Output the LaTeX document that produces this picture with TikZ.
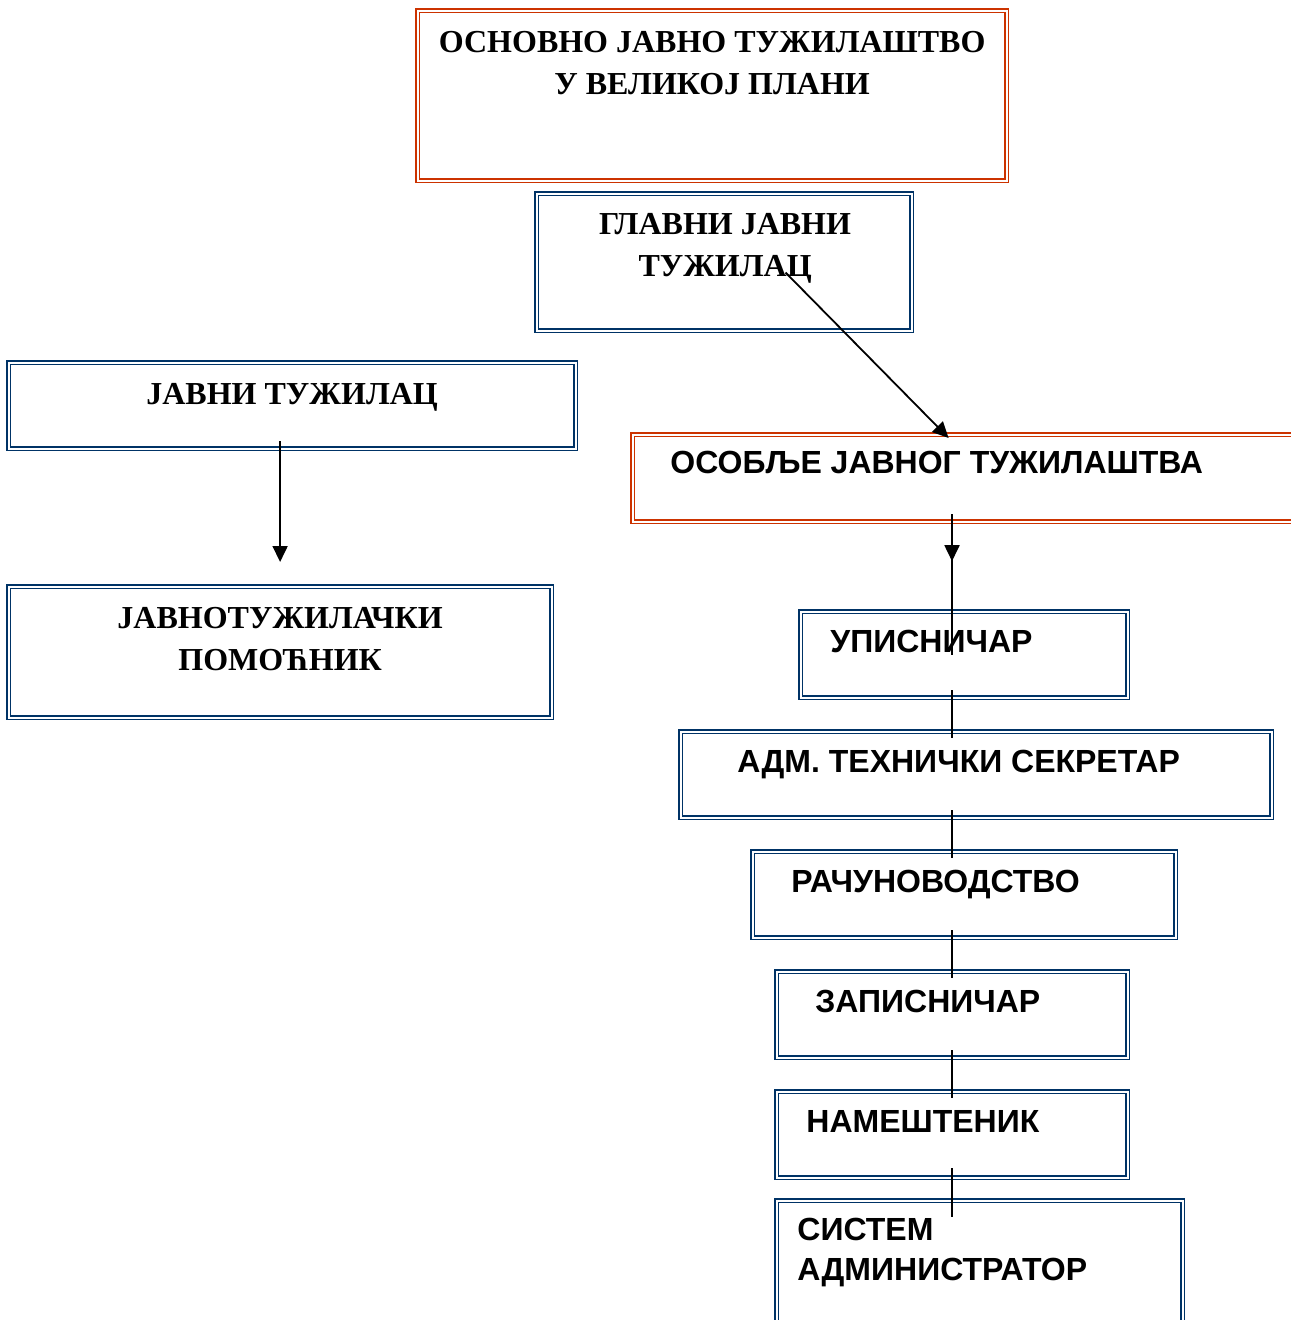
\documentclass[tikz,border=0pt]{standalone}
\usepackage{fontspec}
\setmainfont{Liberation Serif}
\setsansfont{Liberation Sans}
\usetikzlibrary{arrows.meta,calc}
\definecolor{boxred}{RGB}{204,51,0}
\definecolor{boxblue}{RGB}{0,51,102}
\tikzset{
        box/.style={rectangle, anchor=north west, line width=0.6pt, double=white, double distance=1pt},
        redbox/.style={box, draw=boxred},
        bluebox/.style={box, draw=boxblue},
        head/.style={inner sep=0pt, font=\fontsize{16}{21}\selectfont\bfseries, align=center, anchor=base},
        staff/.style={inner sep=0pt, font=\fontsize{16}{20}\selectfont\sffamily\bfseries, align=left, anchor=base west},
        link/.style={line width=0.9pt},
        arr/.style={link, -{Triangle[width=7.5pt,length=8pt]}}
          }
\begin{document}
\begin{tikzpicture}[x=0.5pt, y=-0.5pt]
        \useasboundingbox (0,0) rectangle (1290,1320);
        \coordinate (spine) at (952,0);
        \node[redbox, minimum width=294.5pt, minimum height=85pt] (osn) at (417,10) {};
        \node[bluebox, minimum width=187.5pt, minimum height=68.5pt] (gl) at (536,193) {};
        \node[bluebox, minimum width=283.5pt, minimum height=43pt] (jt) at (8,362) {};
        \node[bluebox, minimum width=271.5pt, minimum height=65.5pt] (pom) at (8,586) {};
        \node[redbox, minimum width=340pt, minimum height=43.5pt] (osob) at (632,434) {};
        \node[bluebox, minimum width=163.5pt, minimum height=43pt] (ups) at (800,611) {};
        \node[bluebox, minimum width=295.5pt, minimum height=43pt] (adm) at (680,731) {};
        \node[bluebox, minimum width=211.5pt, minimum height=43pt] (rac) at (752,851) {};
        \node[bluebox, minimum width=175.5pt, minimum height=43pt] (zap) at (776,971) {};
        \node[bluebox, minimum width=175.5pt, minimum height=43pt] (nam) at (776,1091) {};
        \node[bluebox, minimum width=203pt, minimum height=75pt] (sis) at (776,1200) {};

        \node[head] (osnT) at ([shift={(0,85)}]osn.north) {ОСНОВНО ЈАВНО ТУЖИЛАШТВО\\У ВЕЛИКОЈ ПЛАНИ};
        \node[head] (glT) at ([shift={(1,84)}]gl.north) {ГЛАВНИ ЈАВНИ\\ТУЖИЛАЦ};
        \node[head] (jtT) at ([shift={(0,43)}]jt.north) {ЈАВНИ ТУЖИЛАЦ};
        \node[head] (pomT) at ([shift={(0,84)}]pom.north) {ЈАВНОТУЖИЛАЧКИ\\ПОМОЋНИК};
        \node[staff] (osobT) at ([shift={(38,39)}]osob.north west) {ОСОБЉЕ ЈАВНОГ ТУЖИЛАШТВА};
        \node[staff] (upsT) at ([shift={(30,41)}]ups.north west) {УПИСНИЧАР};
        \node[staff] (admT) at ([shift={(57,41)}]adm.north west) {АДМ. ТЕХНИЧКИ СЕКРЕТАР};
        \node[staff] (racT) at ([shift={(39,41)}]rac.north west) {РАЧУНОВОДСТВО};
        \node[staff] (zapT) at ([shift={(39,41)}]zap.north west) {ЗАПИСНИЧАР};
        \node[staff] (namT) at ([shift={(30,41)}]nam.north west) {НАМЕШТЕНИК};
        \node[staff] (sisT) at ([shift={(21,80)}]sis.north west) {СИСТЕМ\\АДМИНИСТРАТОР};

        \draw[arr] ([shift={(61.5,10.5)}]gl.center) -- ([shift={(-24,4)}]osob.north);
        \draw[arr] ($(jt.south -| pom.north)+(0,-8)$) -- ($(pom.north)+(0,-24)$);
        \draw[arr] ($(osob.south -| spine)+(0,-8)$) -- ($(osob.south -| spine)+(0,39)$);
        \draw[link] ($(osob.south -| spine)+(0,36)$) -- ($(ups.north -| spine)+(0,44)$);
        \draw[link] ($(ups.south -| spine)+(0,-8)$) -- ($(adm.north -| spine)+(0,7)$);
        \draw[link] ($(adm.south -| spine)+(0,-8)$) -- ($(rac.north -| spine)+(0,7)$);
        \draw[link] ($(rac.south -| spine)+(0,-8)$) -- ($(zap.north -| spine)+(0,7)$);
        \draw[link] ($(zap.south -| spine)+(0,-8)$) -- ($(nam.north -| spine)+(0,7)$);
        \draw[link] ($(nam.south -| spine)+(0,-10)$) -- ($(sis.north -| spine)+(0,17)$);
      \end{tikzpicture}
\end{document}
